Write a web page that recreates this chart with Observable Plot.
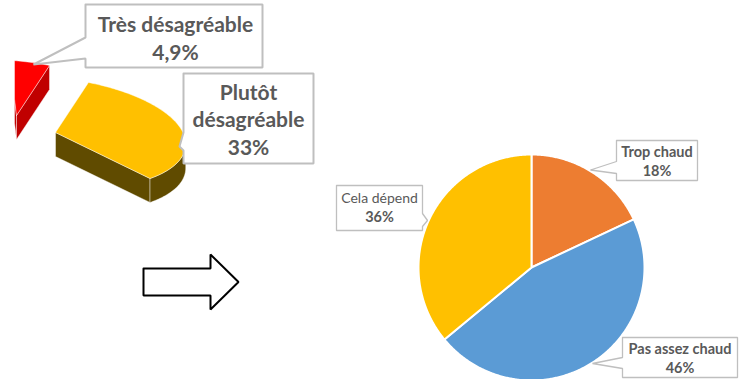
<!DOCTYPE html>
<html>
<head>
<meta charset="utf-8">
<script src="https://cdn.jsdelivr.net/npm/d3@7"></script>
<script src="https://cdn.jsdelivr.net/npm/@observablehq/plot@0.6"></script>
<style>
  html, body { margin: 0; padding: 0; background: #ffffff; }
  #chart { width: 740px; height: 379px; overflow: hidden; }
</style>
</head>
<body>
<div id="chart"></div>
<script>
// ---------------- data ----------------
// Left: fragment of a 3D pie (two exploded slices)
const leftCategories = ["Très désagréable", "Plutôt désagréable"];
const leftValues = [4.9, 33];
const leftValueLabels = ["4,9%", "33%"];
// Right: flat pie
const rightCategories = ["Trop chaud", "Pas assez chaud", "Cela dépend"];
const rightValues = [18, 46, 36];
const rightValueLabels = ["18%", "46%", "36%"];

// ---------------- styles / layout ----------------
const W = 740, H = 379;
const textColor = "#595959";
const boxStroke = "#BFBFBF";
const leftTopColors = ["#FF0000", "#FFC000"];
const leftSideColors = ["#C00000", "#604B00"];
const leftCenters = [[16, 115], [55, 132]];     // exploded slice centres (px)
const proj = { ax: 33, ay: -50, bx: 126, by: 25, depth: 24 }; // oblique projection of the 3D pie
const leftClipX = 14;                            // picture is cropped on the left
const rightColors = ["#ED7D31", "#5B9BD5", "#FFC000"];
const pieCenter = [531, 267], pieRadius = 113;

const deg = Math.PI / 180;

// ---------- 3D pie faces ----------
const P = (c, t) => [
  c[0] + proj.ax * Math.cos(t * deg) + proj.bx * Math.sin(t * deg),
  c[1] + proj.ay * Math.cos(t * deg) + proj.by * Math.sin(t * deg)
];
const dP = (t) => [
  -proj.ax * Math.sin(t * deg) + proj.bx * Math.cos(t * deg),
  -proj.ay * Math.sin(t * deg) + proj.by * Math.cos(t * deg)
];
const tRight = Math.atan2(proj.bx, proj.ax) / deg;
function arcPts(c, t0, t1, dy = 0) {
  const n = Math.max(2, Math.ceil(Math.abs(t1 - t0)));
  const pts = [];
  for (let i = 0; i <= n; i++) {
    const p = P(c, t0 + (t1 - t0) * i / n);
    pts.push([p[0], p[1] + dy]);
  }
  return pts;
}
function radialVisible(c, t, s) {
  const p = P(c, t); p[0] -= c[0]; p[1] -= c[1];
  const d = dP(t).map(v => v * s);
  const k = (d[0] * p[0] + d[1] * p[1]) / (p[0] * p[0] + p[1] * p[1]);
  return d[1] - k * p[1] > 0;
}
function clipLeft(poly, xmin) {
  const out = [];
  for (let i = 0; i < poly.length; i++) {
    const a = poly[i], b = poly[(i + 1) % poly.length];
    const ain = a[0] >= xmin, bin = b[0] >= xmin;
    if (ain) out.push(a);
    if (ain !== bin) {
      const t = (xmin - a[0]) / (b[0] - a[0]);
      out.push([xmin, a[1] + t * (b[1] - a[1])]);
    }
  }
  return out;
}
const leftFaces = [];
let faceId = 0;
function addFace(poly, color) {
  const cl = clipLeft(poly, leftClipX);
  if (cl.length < 3) return;
  cl.push(cl[0]);
  const id = faceId++;
  cl.forEach(([x, y]) => leftFaces.push({ id, x, y, color }));
}
{
  const h = proj.depth;
  // the yellow slice starts at angle 0, the red one ends there
  let t = -leftValues[0] * 3.6;
  const sides = [], tops = [];
  leftValues.forEach((v, i) => {
    const t0 = t, t1 = t + v * 3.6; t = t1;
    const c = leftCenters[i];
    const sc = leftSideColors[i];
    [[t0, -1], [t1, 1]].forEach(([ta, s]) => {
      if (radialVisible(c, ta, s)) {
        const p = P(c, ta);
        sides.push([[[c[0], c[1]], p, [p[0], p[1] + h], [c[0], c[1] + h]], sc]);
      }
    });
    const lo = Math.max(t0, tRight), hi = Math.min(t1, tRight + 180);
    if (hi > lo) {
      const upper = arcPts(c, lo, hi), lower = arcPts(c, lo, hi, h).reverse();
      sides.push([upper.concat(lower), sc]);
    }
    tops.push([[[c[0], c[1]]].concat(arcPts(c, t0, t1)), leftTopColors[i]]);
  });
  sides.forEach(([p, col]) => addFace(p, col));
  tops.forEach(([p, col]) => addFace(p, col));
}

// ---------- flat pie ----------
const pieSlices = [];
{
  const total = d3.sum(rightValues);
  let a = 0;
  rightValues.forEach((v, i) => {
    const a0 = a, a1 = a + v / total * 360; a = a1;
    const n = Math.ceil(a1 - a0) * 2;
    const pts = [[pieCenter[0], pieCenter[1]]];
    for (let k = 0; k <= n; k++) {
      const ang = (a0 + (a1 - a0) * k / n) * deg;
      pts.push([pieCenter[0] + pieRadius * Math.sin(ang), pieCenter[1] - pieRadius * Math.cos(ang)]);
    }
    pts.push(pts[0]);
    pts.forEach(([x, y]) => pieSlices.push({ id: i, x, y, color: rightColors[i] }));
  });
}

// ---------- callout boxes ----------
const callouts = [
  { x0: 85,  y0: 4,   x1: 262, y1: 67,  side: "left",  b0: 37,  b1: 58,  tip: [33, 64],     sw: 2 },
  { x0: 183, y0: 73,  x1: 313, y1: 163, side: "left",  b0: 132, b1: 150, tip: [179, 146],   sw: 2 },
  { x0: 616, y0: 140, x1: 697, y1: 180, side: "left",  b0: 161, b1: 173, tip: [590, 169.5], sw: 1.3 },
  { x0: 622, y0: 337, x1: 737, y1: 377, side: "left",  b0: 357, b1: 368, tip: [592, 363],   sw: 1.3 },
  { x0: 336, y0: 185, x1: 422, y1: 230, side: "right", b0: 213, b1: 226, tip: [427, 220],   sw: 1.3 }
];
const calloutPts = [];
callouts.forEach((b, i) => {
  const pts = b.side === "left"
    ? [[b.x0, b.y0], [b.x1, b.y0], [b.x1, b.y1], [b.x0, b.y1], [b.x0, b.b1], b.tip, [b.x0, b.b0], [b.x0, b.y0]]
    : [[b.x0, b.y0], [b.x1, b.y0], [b.x1, b.b0], b.tip, [b.x1, b.b1], [b.x1, b.y1], [b.x0, b.y1], [b.x0, b.y0]];
  pts.forEach(([x, y]) => calloutPts.push({ id: i, x, y, sw: b.sw }));
});

// ---------- block arrow ----------
const arrow = { x0: 143, xh: 210, xt: 238, yc: 281.5, shaft: 13.5, head: 27.5 };
const arrowPts = [
  [arrow.x0, arrow.yc - arrow.shaft], [arrow.xh, arrow.yc - arrow.shaft], [arrow.xh, arrow.yc - arrow.head],
  [arrow.xt, arrow.yc], [arrow.xh, arrow.yc + arrow.head], [arrow.xh, arrow.yc + arrow.shaft],
  [arrow.x0, arrow.yc + arrow.shaft], [arrow.x0, arrow.yc - arrow.shaft]
].map(([x, y]) => ({ x, y }));

// ---------- label texts ----------
const leftLabelPos = [[175, 37], [248, 118]];
const leftLabels = leftCategories.map((c, i) => ({
  x: leftLabelPos[i][0], y: leftLabelPos[i][1],
  text: (i === 1 ? c.split(" ").join("\n") : c) + "\n" + leftValueLabels[i]
}));
const rightLabelPos = [[656.5, 152, "bold"], [679.5, 349, "bold"], [379, 198, "normal"]];
const rightNames = rightCategories.map((c, i) => ({ x: rightLabelPos[i][0], y: rightLabelPos[i][1], text: c, w: rightLabelPos[i][2] }));
const rightVals = rightValueLabels.map((v, i) => ({ x: rightLabelPos[i][0], y: rightLabelPos[i][1] + 19, text: v }));

const chart = Plot.plot({
  width: W, height: H, margin: 0,
  x: { domain: [0, W], range: [0, W], axis: null },
  y: { domain: [0, H], range: [0, H], axis: null },
  color: { type: "identity" },
  style: { background: "#ffffff", fontFamily: "Lato, 'Open Sans', sans-serif" },
  marks: [
    Plot.line(leftFaces, { x: "x", y: "y", z: "id", fill: "color", stroke: "#ffffff", strokeOpacity: 0.55, strokeWidth: 0.8, strokeLinejoin: "miter", curve: "linear" }),
    Plot.line(pieSlices, { x: "x", y: "y", z: "id", fill: "color", stroke: "#ffffff", strokeWidth: 2, strokeLinejoin: "round", curve: "linear" }),
    Plot.line(arrowPts, { x: "x", y: "y", fill: "#ffffff", stroke: "#000000", strokeWidth: 2, strokeLinejoin: "miter", curve: "linear" }),
    Plot.line(calloutPts.filter(d => d.sw === 2), { x: "x", y: "y", z: "id", fill: "#ffffff", stroke: boxStroke, strokeWidth: 2, strokeLinejoin: "miter", curve: "linear" }),
    Plot.line(calloutPts.filter(d => d.sw !== 2), { x: "x", y: "y", z: "id", fill: "#ffffff", stroke: boxStroke, strokeWidth: 1.3, strokeLinejoin: "miter", curve: "linear" }),
    Plot.text(leftLabels, { x: "x", y: "y", text: "text", fill: textColor, fontSize: 21, fontWeight: "bold", lineHeight: 1.33, textAnchor: "middle", lineAnchor: "middle" }),
    Plot.text(rightNames.filter(d => d.w === "bold"), { x: "x", y: "y", text: "text", fill: textColor, fontSize: 14.5, fontWeight: "bold", textAnchor: "middle", lineAnchor: "middle" }),
    Plot.text(rightNames.filter(d => d.w !== "bold"), { x: "x", y: "y", text: "text", fill: textColor, fontSize: 14, fontWeight: "normal", textAnchor: "middle", lineAnchor: "middle" }),
    Plot.text(rightVals, { x: "x", y: "y", text: "text", fill: textColor, fontSize: 14.5, fontWeight: "bold", textAnchor: "middle", lineAnchor: "middle" })
  ]
});
document.getElementById("chart").appendChild(chart);
</script>
</body>
</html>
